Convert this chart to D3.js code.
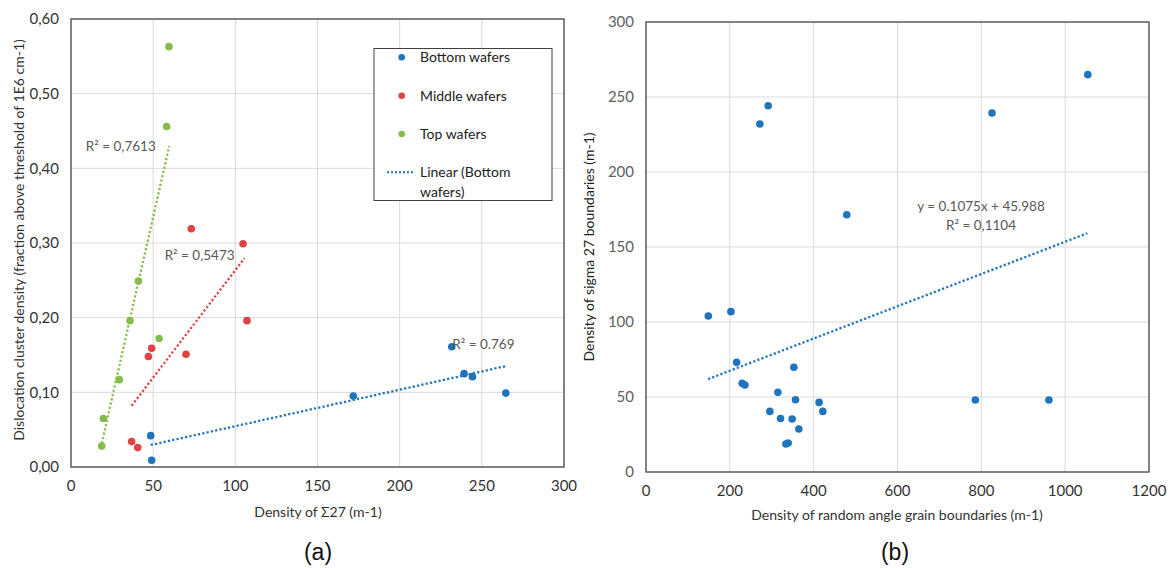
<!DOCTYPE html>
<html>
<head>
<meta charset="utf-8">
<script src="https://cdn.jsdelivr.net/npm/d3@7"></script>
<style>
  body { margin: 0; background: #fff; }
  svg text { font-family: Lato, "Open Sans", sans-serif; }
</style>
</head>
<body>
<div id="chart"></div>
<script>
// ---- data: panel (a) ----
const bottomWafers = [[48.5, 0.042], [49.1, 0.009], [171.8, 0.095], [231.7, 0.161], [239.2, 0.125], [244.3, 0.121], [264.6, 0.099]];
const middleWafers = [[73.2, 0.319], [104.7, 0.299], [107.1, 0.196], [49.1, 0.159], [47.1, 0.148], [70.0, 0.151], [36.9, 0.034], [40.6, 0.026]];
const topWafers = [[59.6, 0.563], [58.2, 0.456], [41.0, 0.249], [35.9, 0.196], [53.6, 0.172], [29.4, 0.117], [19.7, 0.065], [18.7, 0.028]];
// trendline ends
const bottomTrend = [[48.5, 0.0295], [265, 0.1353]];
const middleTrend = [[36.9, 0.082], [105.5, 0.2795]];
const topTrend = [[18.7, 0.0317], [59.8, 0.430]];
const trendLabelsA = [
  { text: "R² = 0,7613", x: 9, y: 0.43 },
  { text: "R² = 0,5473", x: 57, y: 0.283 },
  { text: "R² = 0.769", x: 232, y: 0.164 }
];
const xTicksA = [0, 50, 100, 150, 200, 250, 300];
const yTicksA = [0, 0.1, 0.2, 0.3, 0.4, 0.5, 0.6];
const legendLabels = ["Bottom wafers", "Middle wafers", "Top wafers", "Linear (Bottom", "wafers)"];

// ---- data: panel (b) ----
const sigmaPoints = [[291.5, 244.2], [271.7, 232], [479, 171.5], [1054, 264.9], [825.4, 239.3],
  [148.6, 104], [202.6, 106.9], [216.1, 73.1], [352.7, 69.8], [229.5, 59.1], [236, 58],
  [314.6, 53.1], [356.7, 48.2], [413, 46.4], [421.8, 40.4], [295.5, 40.4], [321, 35.7],
  [348.7, 35.3], [364.6, 28.7], [333.7, 18.7], [339.2, 19.3], [785.7, 48], [961.2, 48]];
const sigmaTrend = [[148, 61.9], [1053, 159.2]];
const trendLabelsB = ["y = 0.1075x + 45.988", "R² = 0,1104"];
const xTicksB = [0, 200, 400, 600, 800, 1000, 1200];
const yTicksB = [0, 50, 100, 150, 200, 250, 300];

const blue = "#1f74bd", red = "#e04343", green = "#86bd4a";
const grid = "#d9d9d9", frame = "#595959";

const svg = d3.select("#chart").append("svg")
  .attr("width", 1170).attr("height", 568);

const commaFmt = d3.formatLocale({ decimal: ",", thousands: ".", grouping: [3], currency: ["", ""] }).format(".2f");

// draws frame, grid and tick labels, returns scales
function drawFrame(g, xDomain, yDomain, left, top, right, bottom, xTicks, yTicks, yFmt, yColor) {
  const x = d3.scaleLinear().domain(xDomain).range([left, right]);
  const y = d3.scaleLinear().domain(yDomain).range([bottom, top]);

  g.append("g").selectAll("line.gx").data(xTicks.slice(1, -1)).join("line")
    .attr("x1", d => x(d)).attr("x2", d => x(d))
    .attr("y1", top).attr("y2", bottom)
    .attr("stroke", grid).attr("stroke-width", 1);
  g.append("g").selectAll("line.gy").data(yTicks.slice(1, -1)).join("line")
    .attr("x1", left).attr("x2", right)
    .attr("y1", d => y(d)).attr("y2", d => y(d))
    .attr("stroke", grid).attr("stroke-width", 1);

  g.append("rect")
    .attr("x", left).attr("y", top)
    .attr("width", right - left).attr("height", bottom - top)
    .attr("fill", "none").attr("stroke", frame).attr("stroke-width", 1.5);

  g.append("g").selectAll("text").data(yTicks).join("text")
    .attr("x", left - 12).attr("y", d => y(d))
    .attr("dy", "0.35em").attr("text-anchor", "end")
    .attr("font-size", 15).attr("fill", yColor)
    .text(yFmt);
  g.append("g").selectAll("text").data(xTicks).join("text")
    .attr("x", d => x(d)).attr("y", bottom + 24)
    .attr("text-anchor", "middle")
    .attr("font-size", 15).attr("fill", "#333")
    .text(d => d);
  return { x, y };
}

function dots(g, data, sc, color) {
  g.append("g").selectAll("circle").data(data).join("circle")
    .attr("cx", d => sc.x(d[0])).attr("cy", d => sc.y(d[1]))
    .attr("r", 3.8).attr("fill", color);
}

function trend(g, data, sc, color) {
  g.append("path").datum(data)
    .attr("fill", "none").attr("stroke", color)
    .attr("stroke-width", 2.3).attr("stroke-dasharray", "2.2 2.2")
    .attr("d", d3.line().x(d => sc.x(d[0])).y(d => sc.y(d[1])));
}

// ---------- panel (a) ----------
const ga = svg.append("g");
const sa = drawFrame(ga, [0, 300], [0, 0.6], 71, 19, 564, 467, xTicksA, yTicksA, commaFmt, "#333");

trend(ga, topTrend, sa, green);
trend(ga, middleTrend, sa, red);
trend(ga, bottomTrend, sa, blue);
dots(ga, bottomWafers, sa, blue);
dots(ga, middleWafers, sa, red);
dots(ga, topWafers, sa, green);

ga.append("g").selectAll("text").data(trendLabelsA).join("text")
  .attr("x", d => sa.x(d.x)).attr("y", d => sa.y(d.y))
  .attr("dy", "0.35em").attr("font-size", 13.5).attr("fill", "#595959")
  .text(d => d.text);

// legend
const lg = ga.append("g");
lg.append("rect").attr("x", 374).attr("y", 48.5).attr("width", 178).attr("height", 152)
  .attr("fill", "#fff").attr("stroke", "#404040").attr("stroke-width", 1);
const legendRows = [57.3, 95.7, 134, 172.3, 191.7];
const legendColors = [blue, red, green];
lg.selectAll("circle").data(legendColors).join("circle")
  .attr("cx", 401.7).attr("cy", (d, i) => legendRows[i]).attr("r", 3.3).attr("fill", d => d);
lg.append("line").attr("x1", 387).attr("x2", 414).attr("y1", legendRows[3]).attr("y2", legendRows[3])
  .attr("stroke", blue).attr("stroke-width", 2).attr("stroke-dasharray", "2 2");
lg.selectAll("text").data(legendLabels).join("text")
  .attr("x", 420).attr("y", (d, i) => legendRows[i]).attr("dy", "0.35em")
  .attr("font-size", 14).attr("fill", "#222").text(d => d);

ga.append("text")
  .attr("transform", "translate(19,240) rotate(-90)")
  .attr("dy", "0.35em")
  .attr("text-anchor", "middle").attr("font-size", 14).attr("fill", "#333")
  .text("Dislocation cluster density (fraction above threshold of 1E6 cm-1)");
ga.append("text").attr("x", 318).attr("y", 517)
  .attr("text-anchor", "middle").attr("font-size", 14).attr("fill", "#333")
  .text("Density of Σ27 (m-1)");
ga.append("text").attr("x", 318).attr("y", 560)
  .attr("text-anchor", "middle").attr("font-size", 23).attr("fill", "#111")
  .style("font-family", "Liberation Sans, Arial, sans-serif")
  .text("(a)");

// ---------- panel (b) ----------
const gb = svg.append("g");
const sb = drawFrame(gb, [0, 1200], [0, 300], 646, 22, 1149, 472, xTicksB, yTicksB, d => d, "#5f5f5f");

trend(gb, sigmaTrend, sb, blue);
dots(gb, sigmaPoints, sb, blue);

gb.append("g").selectAll("text").data(trendLabelsB).join("text")
  .attr("x", 981).attr("y", (d, i) => 206 + i * 19.5)
  .attr("dy", "0.35em").attr("text-anchor", "middle")
  .attr("font-size", 13.5).attr("fill", "#595959")
  .text(d => d);

gb.append("text")
  .attr("transform", "translate(594,247) rotate(-90)")
  .attr("text-anchor", "middle").attr("font-size", 14).attr("fill", "#222")
  .text("Density of sigma 27 boundaries (m-1)");
gb.append("text").attr("x", 897).attr("y", 520)
  .attr("text-anchor", "middle").attr("font-size", 14).attr("fill", "#333")
  .text("Density of random angle grain boundaries (m-1)");
gb.append("text").attr("x", 895).attr("y", 560)
  .attr("text-anchor", "middle").attr("font-size", 23).attr("fill", "#111")
  .style("font-family", "Liberation Sans, Arial, sans-serif")
  .text("(b)");
</script>
</body>
</html>
